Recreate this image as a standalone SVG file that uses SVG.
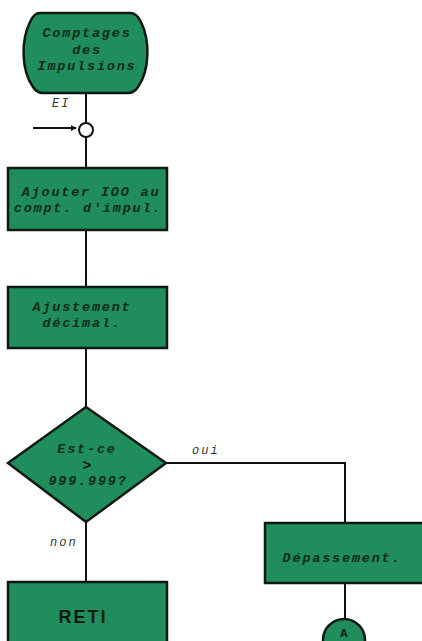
<svg xmlns="http://www.w3.org/2000/svg" width="422" height="641" viewBox="0 0 422 641">
<defs>
<style>
.box{fill:#1f8d5c;stroke:#0d1a12;stroke-width:2.5}
.ln{fill:none;stroke:#111;stroke-width:2}
.t{font-family:"Liberation Mono",monospace;font-style:italic;font-weight:bold;font-size:13.5px;letter-spacing:1.8px;fill:#0b2a18;text-anchor:middle}
.lb{font-family:"Liberation Mono",monospace;font-style:italic;font-size:12px;letter-spacing:2px;fill:#333}
.s{font-family:"Liberation Sans",Arial,sans-serif;font-weight:bold;fill:#0b1a10;text-anchor:middle}
</style>
<marker id="ah" viewBox="0 0 8 8" refX="7" refY="4" markerWidth="6" markerHeight="6" orient="auto" markerUnits="userSpaceOnUse">
<path d="M0,0 L8,4 L0,8 Z" fill="#111"/>
</marker>
</defs>
<rect width="422" height="641" fill="#fff"/>
<g id="connectors">
<line class="ln" x1="86" y1="93" x2="86" y2="123"/>
<line class="ln" x1="86" y1="137" x2="86" y2="168"/>
<line class="ln" x1="33" y1="128" x2="76" y2="128" stroke-width="1.5" marker-end="url(#ah)"/>
<line class="ln" x1="86" y1="230" x2="86" y2="287"/>
<line class="ln" x1="86" y1="348" x2="86" y2="407"/>
<polyline class="ln" points="166,463 345,463 345,523"/>
<line class="ln" x1="86" y1="522" x2="86" y2="582"/>
<line class="ln" x1="345" y1="583" x2="345" y2="619"/>
<text class="lb" x="52" y="107">EI</text>
<text class="lb" x="192" y="454">oui</text>
<text class="lb" x="50" y="546">non</text>
</g>
<g id="start">
<path class="box" d="M40,13 L130,13 Q137,13 141,22 C150,40 150,70 138,87 Q134,93 128,93 L43,93 Q37,93 33,87 C21,70 21,40 30,22 Q34,13 40,13 Z"/>
<text class="t" x="87" y="37">Comptages</text>
<text class="t" x="87" y="54">des</text>
<text class="t" x="87" y="70">Impulsions</text>
</g>
<g id="junction">
<circle cx="86" cy="130" r="7" fill="#fff" stroke="#111" stroke-width="2"/>
</g>
<g id="ajouter">
<rect class="box" x="8" y="168" width="159" height="62"/>
<text class="t" x="91" y="196">Ajouter IOO au</text>
<text class="t" x="88" y="212">compt. d'impul.</text>
</g>
<g id="ajustement">
<rect class="box" x="8" y="287" width="159" height="61"/>
<text class="t" x="82" y="311">Ajustement</text>
<text class="t" x="82" y="327">décimal.</text>
</g>
<g id="decision">
<polygon class="box" points="86,407 166,463 86,522 8,463"/>
<text class="t" x="87" y="453">Est-ce</text>
<text class="s" x="87" y="470" font-size="15">&gt;</text>
<text class="t" x="88" y="485">999.999?</text>
</g>
<g id="depassement">
<rect class="box" x="265" y="523" width="160" height="60"/>
<text class="t" x="342" y="562">Dépassement.</text>
</g>
<g id="reti">
<rect class="box" x="8" y="582" width="159" height="64"/>
<text class="s" x="83" y="623" font-size="18" letter-spacing="2">RETI</text>
</g>
<g id="connA">
<circle cx="344" cy="640" r="21" fill="#1f8d5c" stroke="#0d1a12" stroke-width="2.5"/>
<text class="s" x="344" y="637" font-size="11">A</text>
</g>
</svg>
